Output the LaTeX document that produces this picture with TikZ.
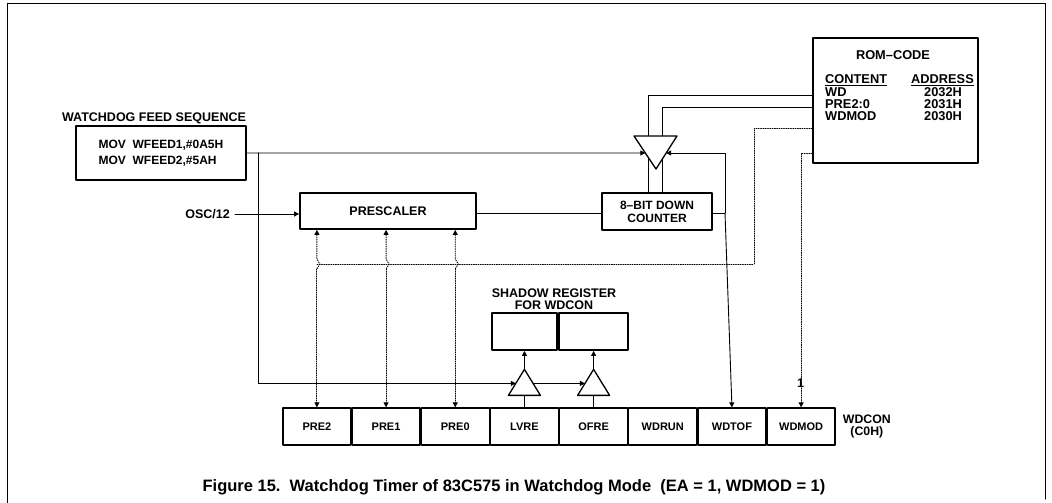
\documentclass[tikz,border=0pt]{standalone}
\usepackage{fontspec}
\setmainfont{Liberation Sans}
\usetikzlibrary{positioning,arrows.meta,calc}
\begin{document}
\begin{tikzpicture}[x=1pt, y=-1pt, line cap=round, line join=round,
  box/.style={draw, line width=1.8pt, inner sep=0pt, align=center, font=\bfseries\fontsize{12.5}{13}\selectfont},
  regcell/.style={draw, line width=1.3pt, minimum width=67.875pt, minimum height=37pt, inner sep=0pt, font=\bfseries\fontsize{11}{11}\selectfont},
  lbl/.style={inner sep=0pt, font=\bfseries\fontsize{12.5}{12.5}\selectfont},
  romtxt/.style={inner sep=0pt, font=\bfseries\fontsize{12.8}{12.8}\selectfont},
  wire/.style={line width=0.9pt},
  ctrl/.style={line width=0.9pt, dash pattern=on 0.9pt off 1.4pt},
  tip/.style={-{Triangle[width=5pt,length=5pt]}},
  buffer/.style={line width=1.3pt, fill=white}]
% Page and outer frame
\useasboundingbox (0,0) rectangle (1052,503);
\draw[line width=1pt] (7,503) -- (7,4) -- (1045,4) -- (1045,499);
% Feed sequence
\node[box, minimum width=170pt, minimum height=54pt, align=left, font=\bfseries\fontsize{12}{16}\selectfont] (feed) at (161,153)
  {MOV\ \ WFEED1,\#0A5H\\MOV\ \ WFEED2,\#5AH};
\node[lbl] (feedtitle) at (154,118) {WATCHDOG FEED SEQUENCE};
% Prescaler and counter
\node[box, minimum width=176pt, minimum height=36pt] (prs) at (388,211) {PRESCALER};
\node[box, minimum width=110pt, minimum height=37pt, font=\bfseries\fontsize{12}{13}\selectfont] (cnt) at (657,211.5) {8--BIT DOWN\\COUNTER};
\node[lbl, anchor=east] (osc) at (230,214) {OSC/12};
% ROM code table
\node[draw, line width=1.8pt, minimum width=165pt, minimum height=125pt] (rom) at (895.5,100.5) {};
\begin{scope}[every node/.style={romtxt}]
  \node (romtitle) at (893,55) {ROM--CODE};
  \node[anchor=west] (content) at (825,80) {\underline{CONTENT}};
  \node[anchor=east] (address) at (974,80) {\underline{ADDRESS}};
  \node[anchor=west] (cwd) at (825,92) {WD};
  \node[anchor=west] (cpre) at (825,104) {PRE2:0};
  \node[anchor=west] (cmod) at (825,116) {WDMOD};
  \node (awd) at (943,92) {2032H};
  \node (apre) at (943,104) {2031H};
  \node (amod) at (943,116) {2030H};
\end{scope}
% WDCON register
\node[regcell] (pre2) at (316.9,426.5) {PRE2};
\foreach \name/\prev/\txt in {pre1/pre2/PRE1, pre0/pre1/PRE0, lvre/pre0/LVRE, ofre/lvre/OFRE,
                             wdrun/ofre/WDRUN, wdtof/wdrun/WDTOF, wdmod/wdtof/WDMOD}
  \node[regcell, right=0pt of \prev] (\name) {\txt};
\node[lbl, align=center, font=\bfseries\fontsize{12.3}{12.5}\selectfont, right=7pt of wdmod] (wdcon) {WDCON\\(C0H)};
% Shadow register
\node[regcell, minimum width=65pt, line width=1.8pt] (sh1) at (524.5,331.5) {};
\node[regcell, minimum width=69pt, line width=1.8pt, right=0pt of sh1] (sh2) {};
\node[lbl, align=center] (shtitle) at (554,299) {SHADOW REGISTER\\FOR WDCON};
% Buffer corners
\coordinate (gTL) at (634,136);
\coordinate (gTR) at (677,136);
\coordinate (gTip) at (656,169);
\coordinate (gL) at ($(gTL)!0.515!(gTip)$);
\coordinate (gR) at ($(gTR)!0.515!(gTip)$);
\coordinate (lvB1) at ($(lvre.north)+(-16,-12)$);
\coordinate (lvB2) at ($(lvre.north)+(16,-12)$);
\coordinate (lvT) at ($(lvre.north)+(0,-38)$);
\coordinate (lvL) at ($(lvB1)!0.46!(lvT)$);
\coordinate (ofB1) at ($(ofre.north)+(-16,-12)$);
\coordinate (ofB2) at ($(ofre.north)+(16,-12)$);
\coordinate (ofT) at ($(ofre.north)+(0,-38)$);
\coordinate (ofL) at ($(ofB1)!0.46!(ofT)$);
\coordinate (fork) at (258,153);
\coordinate (tap) at (725,213);
% Solid wires
\draw[wire, tip] (feed.east) -- (gL);
\draw[wire, tip] (fork) |- (ofL);
\draw[wire, tip] (fork) |- (lvL);
\draw[wire, tip] ([xshift=5pt]osc.east) -- (prs.west |- osc.east);
\draw[wire] (prs.east |- 0,213) -- (cnt.west |- 0,213);
\draw[wire] (cnt.east |- tap) -- (tap);
\draw[wire, tip] (tap) -- (wdtof.north);
\draw[wire, tip] (tap) |- (gR);
\draw[wire] (rom.west |- 0,95) -| (cnt.north -| 648,0);
\draw[wire] (rom.west |- 0,107) -| (cnt.north -| 662,0);
\draw[wire] (lvre.north) -- (lvre.north |- lvB1);
\draw[wire] (ofre.north) -- (ofre.north |- ofB1);
\draw[wire, tip] (lvT) -- (lvT |- sh1.south);
\draw[wire, tip] (ofT) -- (ofT |- sh2.south);
% Buffers
\filldraw[buffer] (gTL) -- (gTR) -- (gTip) -- cycle;
\filldraw[buffer] (lvB1) -- (lvB2) -- (lvT) -- cycle;
\filldraw[buffer] (ofB1) -- (ofB2) -- (ofT) -- cycle;
% Dotted control lines
\draw[ctrl] (rom.west |- 0,128) -| (754,264) -- (pre2.north |- 0,264);
\draw[ctrl, tip] (rom.west |- 0,153) -| (wdmod.north);
\node[lbl, anchor=west] (one) at (797,383) {1};
\foreach \bit in {pre2, pre1, pre0} {
  \draw[ctrl, {Triangle[width=5pt,length=5pt]}-] (\bit.north |- prs.south) -- ($(\bit.north |- 0,264)+(0,-5)$)
    -- ++(3,5) -- ++(-3,5);
  \draw[ctrl, tip] ($(\bit.north |- 0,264)+(0,5)$) -- (\bit.north);
}
% Caption
\node[inner sep=0pt, font=\bfseries\fontsize{16.5}{16.5}\selectfont] (caption) at (514,487)
  {Figure 15.\ \ Watchdog Timer of 83C575 in Watchdog Mode\ \ (EA = 1, WDMOD = 1)};
\end{tikzpicture}
\end{document}
